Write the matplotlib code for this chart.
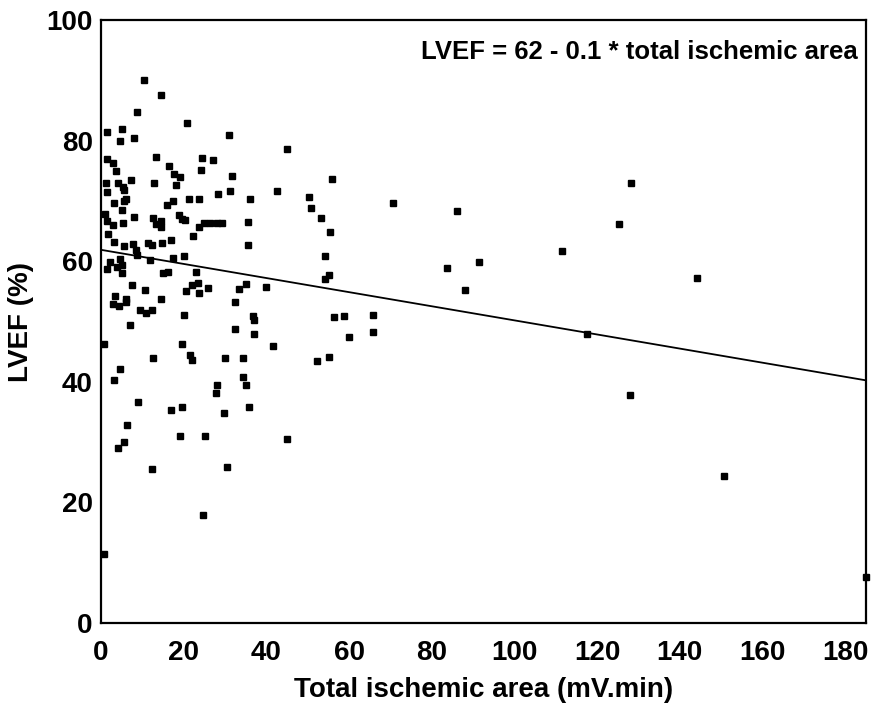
import numpy as np
import matplotlib
matplotlib.use('Agg')
import matplotlib.pyplot as plt

# valori: area ischemica totale (mV.min) e LVEF (%)
area = [10.5, 14.5, 8.8, 20.8, 1.4, 5.0, 4.5, 8.1, 31.0, 13.2, 24.5, 27.1, 1.5, 3.0,
        3.6, 16.5, 24.2, 17.7, 19.2, 31.7, 1.2, 7.3, 12.9, 4.2, 5.3, 18.1, 5.6, 1.4,
        28.4, 31.1, 21.2, 23.8, 36.1, 6.1, 5.6, 3.2, 17.4, 16.0, 5.0, 1.0, 8.1, 12.7,
        14.5, 13.3, 14.4, 18.9, 19.7, 20.4, 25.0, 26.4, 28.0, 29.2, 23.8, 35.6, 1.5,
        3.0, 5.3, 1.8, 22.2, 3.2, 5.6, 7.8, 11.3, 12.3, 14.7, 17.0, 35.6, 8.5, 8.7,
        11.9, 17.5, 20.0, 2.2, 4.6, 5.0, 1.4, 3.8, 5.0, 15.1, 16.2, 23.0, 7.4, 10.6,
        22.0, 23.4, 26.0, 35.1, 33.3,
        20.5, 23.6, 3.4, 6.0, 3.0, 4.4, 6.0, 14.5, 9.5, 10.8, 12.3, 32.3, 20.0, 36.7,
        37.0, 6.9, 32.5, 36.9, 0.8, 19.6, 21.6, 22.0, 12.7, 30.1, 34.4, 4.6, 3.2,
        34.3, 35.1, 28.0, 27.8, 8.9, 17.0, 19.7, 29.7, 35.9, 6.2, 19.0, 25.2, 5.6,
        4.2, 12.4, 30.5, 24.6, 0.8,
        45.1, 55.8, 42.6, 50.2, 50.7, 70.7, 53.3, 55.5, 54.1, 55.1, 54.1, 39.8,
        56.3, 58.8, 65.9, 60.0, 65.9, 41.6, 52.3, 55.2, 45.1,
        128.2, 86.1, 125.2, 111.5, 83.7, 91.5, 88.0, 144.1, 117.6, 128.0, 150.6, 185.0]

lvef = [90.0, 87.6, 84.8, 83.0, 81.5, 81.9, 80.0, 80.5, 80.9, 77.3, 77.1, 76.8, 76.9, 76.3,
        75.0, 75.8, 75.1, 74.4, 74.0, 74.2, 72.9, 73.4, 73.0, 72.9, 72.4, 72.6, 71.8, 71.5,
        71.2, 71.6, 70.3, 70.3, 70.4, 70.3, 70.0, 69.6, 70.0, 69.4, 68.5, 67.9, 67.4, 67.1,
        66.6, 66.2, 65.7, 67.7, 67.0, 66.8, 66.3, 66.4, 66.4, 66.4, 65.7, 66.5, 66.7,
        66.0, 66.3, 64.6, 64.2, 63.2, 62.6, 62.8, 63.1, 62.7, 63.0, 63.5, 62.7, 61.8, 61.0,
        60.2, 60.6, 60.9, 59.9, 60.4, 59.4, 58.8, 59.0, 58.1, 58.1, 58.3, 58.2, 56.0, 55.3,
        56.1, 56.4, 55.5, 56.3, 55.4,
        55.1, 54.7, 54.3, 53.7, 52.9, 52.5, 53.2, 53.8, 52.0, 51.5, 52.0, 53.3, 51.1, 51.0,
        50.2, 49.4, 48.8, 47.9, 46.3, 46.3, 44.4, 43.6, 43.9, 43.9, 43.9, 42.1, 40.3,
        40.8, 39.5, 39.5, 38.1, 36.7, 35.4, 35.9, 34.8, 35.9, 32.9, 31.0, 31.0, 30.1,
        29.0, 25.6, 25.8, 17.9, 11.4,
        78.6, 73.6, 71.6, 70.6, 68.9, 69.7, 67.1, 64.8, 60.9, 57.7, 57.0, 55.8,
        50.7, 51.0, 51.1, 47.4, 48.3, 45.9, 43.4, 44.1, 30.5,
        73.0, 68.4, 66.1, 61.7, 58.9, 59.8, 55.2, 57.3, 48.0, 37.8, 24.4, 7.7]

# retta di regressione
intercetta = 61.9
pendenza = -0.117

plt.rcParams['font.family'] = ['Liberation Sans', 'DejaVu Sans']
plt.rcParams['font.weight'] = 'bold'

fig = plt.figure(figsize=(8.72, 7.17), dpi=100)
ax = fig.add_axes([0.1158, 0.131, 0.8772, 0.841])

ax.plot(area, lvef, 's', color='black', markersize=4.3, clip_on=False)

xr = np.array([0, 185])
ax.plot(xr, intercetta + pendenza * xr, color='black', lw=1.3)

ax.set_xlim(0, 185)
ax.set_ylim(0, 100)
ax.set_xticks(np.arange(0, 181, 20))
ax.set_yticks(np.arange(0, 101, 20))
ax.tick_params(length=0, labelsize=20)
ax.tick_params(axis='x', pad=12)
ax.tick_params(axis='y', pad=6)
for lab in ax.get_xticklabels() + ax.get_yticklabels():
    lab.set_fontweight('bold')
for s in ax.spines.values():
    s.set_linewidth(1.6)

ax.text(0.99, 0.947, 'LVEF = 62 - 0.1 * total ischemic area', transform=ax.transAxes,
        ha='right', va='center', fontsize=18.5, fontweight='bold')

ax.set_xlabel('Total ischemic area (mV.min)', fontsize=20, fontweight='bold', labelpad=8)
ax.set_ylabel('LVEF (%)', fontsize=20, fontweight='bold')
ax.yaxis.set_label_coords(-0.087, 0.5)

fig.savefig('out.png', dpi=100)
